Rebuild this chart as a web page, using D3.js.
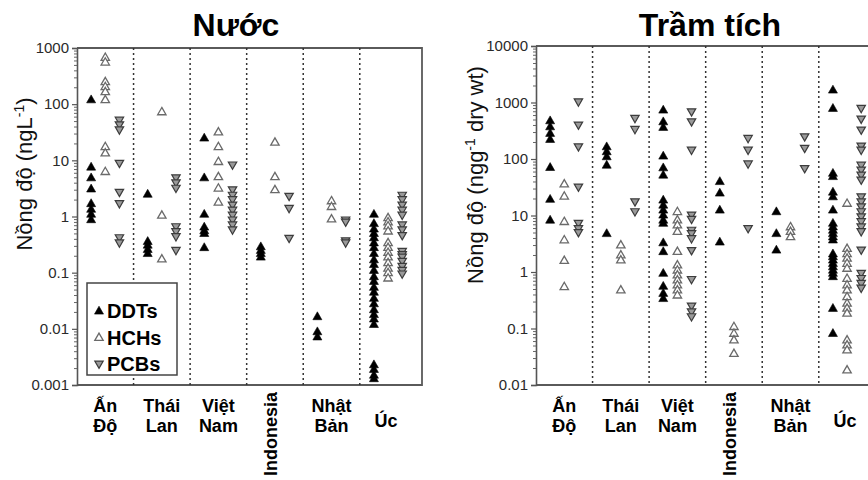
<!DOCTYPE html>
<html>
<head>
<meta charset="utf-8">
<script src="https://cdn.jsdelivr.net/npm/d3@7"></script>
<style>
  html, body { margin: 0; padding: 0; background: #fff; }
  svg { display: block; font-family: "Liberation Sans", Arial, sans-serif; }
</style>
</head>
<body>
<svg id="chart" width="868" height="480"></svg>
<script>
// Countries along the x axis and their (possibly wrapped) label lines
const categories = ["Ấn Độ", "Thái Lan", "Việt Nam", "Indonesia", "Nhật Bản", "Úc"];
const categoryLines = [["Ấn", "Độ"], ["Thái", "Lan"], ["Việt", "Nam"], ["Indonesia"], ["Nhật", "Bản"], ["Úc"]];
const seriesNames = ["DDTs", "HCHs", "PCBs"];

// Water concentrations (ng/L), one list per country
const waterDDTs = [
  [120, 7.6, 4.9, 3.1, 1.7, 1.35, 1.1, 0.88],
  [2.5, 0.36, 0.31, 0.26, 0.22],
  [25, 4.9, 1.1, 0.65, 0.56, 0.5, 0.28],
  [0.29, 0.25, 0.22, 0.19],
  [0.0165, 0.0089, 0.0072],
  [1.1, 0.75, 0.6, 0.5, 0.42, 0.34, 0.28, 0.22, 0.17, 0.14, 0.11, 0.085, 0.07, 0.055, 0.045, 0.035, 0.028, 0.022, 0.018, 0.015, 0.012, 0.0023, 0.0019, 0.0015, 0.0013]
];
const waterHCHs = [
  [680, 560, 250, 205, 166, 120, 17.5, 13.5, 6.3],
  [73, 1.05, 0.175],
  [32, 17.5, 9.5, 5.1, 3.2, 1.8],
  [21, 5.1, 3.0],
  [1.9, 1.5, 0.9],
  [0.95, 0.8, 0.68, 0.55, 0.34, 0.28, 0.23, 0.19, 0.15, 0.12, 0.1, 0.08]
];
const waterPCBs = [
  [52, 43, 35, 8.9, 2.7, 1.7, 0.42, 0.34],
  [4.9, 4.0, 3.2, 0.66, 0.54, 0.44, 0.25],
  [8.3, 3.0, 2.4, 2.0, 1.6, 1.3, 1.06, 0.87, 0.71, 0.58],
  [2.3, 1.4, 0.41],
  [0.87, 0.8, 0.37, 0.34],
  [2.4, 2.0, 1.6, 1.3, 1.06, 0.71, 0.58, 0.46, 0.24, 0.21, 0.19, 0.16, 0.13, 0.11, 0.095]
];

// Sediment concentrations (ng/g dry wt), one list per country
const sedimentDDTs = [
  [476, 373, 285, 223, 71, 19.4, 8.3],
  [165, 135, 110, 78, 4.8],
  [736, 457, 364, 113, 70, 52, 18.8, 15.3, 12.5, 10.2, 8.3, 7.3, 3.3, 2.3, 0.95, 0.56, 0.42, 0.34],
  [40, 25, 12.5, 3.4],
  [11.7, 4.8, 2.45],
  [1665, 789, 56, 49, 26, 21.5, 12.5, 7.3, 6.3, 5.5, 4.8, 4.2, 3.7, 2.1, 1.87, 1.63, 1.42, 1.24, 1.08, 0.95, 0.83, 0.228, 0.082]
];
const sedimentHCHs = [
  [36, 22, 7.8, 3.7, 1.6, 0.55],
  [3.0, 2.0, 1.63, 0.48],
  [11.7, 8.3, 6.8, 5.2, 2.3, 1.33, 1.08, 0.885, 0.72, 0.59, 0.48, 0.39],
  [0.108, 0.082, 0.0625, 0.036],
  [6.3, 5.2, 4.2],
  [16.4, 2.6, 2.1, 1.75, 1.42, 1.16, 0.77, 0.59, 0.48, 0.366, 0.28, 0.228, 0.186, 0.0625, 0.051, 0.0416, 0.0184]
];
const sedimentPCBs = [
  [1030, 400, 165, 32, 7.3, 5.9, 5.0],
  [525, 335, 17.5, 11.7],
  [687, 457, 144, 10.2, 8.6, 5.5, 4.8, 3.9, 2.4, 0.74, 0.25, 0.198, 0.162],
  [232, 144, 82, 5.9],
  [248, 155, 68],
  [789, 510, 326, 170, 144, 78, 64, 52, 42.5, 21.5, 17.5, 14.3, 11.7, 9.5, 7.8, 6.3, 5.2, 2.45, 0.95, 0.77, 0.63, 0.52]
];

// Axis tick values
const waterTicks = [0.001, 0.01, 0.1, 1, 10, 100, 1000];
const sedimentTicks = [0.01, 0.1, 1, 10, 100, 1000, 10000];
const tickLabels = { 0.001: "0.001", 0.01: "0.01", 0.1: "0.1", 1: "1", 10: "10", 100: "100", 1000: "1000", 10000: "10000" };

const svg = d3.select("#chart");

const markerStyle = {
  DDTs: { path: "M0,-4.8L4.5,3.1L-4.5,3.1Z", fill: "#000", stroke: "#000", sw: 0.6 },
  HCHs: { path: "M0,-4.4L4.2,2.9L-4.2,2.9Z", fill: "#fff", stroke: "#6a6a6a", sw: 1.3 },
  PCBs: { path: "M0,4.4L4.2,-2.9L-4.2,-2.9Z", fill: "#9a9a9a", stroke: "#3c3c3c", sw: 1.2 }
};

function minorTicks(domain) {
  const out = [];
  const lo = Math.round(Math.log10(domain[0])), hi = Math.round(Math.log10(domain[1]));
  for (let e = lo; e < hi; e++) for (let m = 2; m <= 9; m++) out.push(m * Math.pow(10, e));
  return out;
}

function drawPanel(opts) {
  const g = svg.append("g");
  const axisX = opts.axisX, top = opts.top, bottom = 385;
  const x = d3.scaleLinear().domain([0, 6.1]).range([axisX, axisX + 345]);
  const y = d3.scaleLog().domain(opts.domain).range([bottom, top]);
  const sub = d3.scalePoint().domain(seriesNames).range([-0.25, 0.25]);
  const center = i => (i + Math.min(i + 1, 6.1)) / 2;

  // frame (top, right, bottom)
  g.append("path")
    .attr("d", `M${axisX},${top}H${x(6.1)}V${bottom}H${axisX}`)
    .attr("fill", "none").attr("stroke", "#5a5a5a").attr("stroke-width", 1.8);

  // dotted separators between countries
  g.selectAll("line.sep").data(d3.range(1, 6)).join("line")
    .attr("class", "sep")
    .attr("x1", d => x(d)).attr("x2", d => x(d))
    .attr("y1", top).attr("y2", bottom)
    .attr("stroke", "#333").attr("stroke-width", 1.5)
    .attr("stroke-dasharray", "2,3");

  // y axis: major and minor log ticks
  const major = d3.axisLeft(y).tickValues(opts.ticks).tickFormat(d => tickLabels[d]).tickSize(5).tickPadding(3);
  const ax = g.append("g").attr("transform", `translate(${axisX},0)`).call(major);
  ax.select(".domain").attr("stroke", "#555").attr("stroke-width", 1.6);
  ax.selectAll(".tick line").attr("stroke", "#555").attr("stroke-width", 1.2);
  ax.selectAll(".tick text").attr("font-size", 15).attr("fill", "#2a2a2a")
    .attr("font-family", "Liberation Sans, Arial, sans-serif");
  const minor = d3.axisLeft(y).tickValues(minorTicks(opts.domain)).tickFormat("").tickSize(3);
  const mx = g.append("g").attr("transform", `translate(${axisX},0)`).call(minor);
  mx.select(".domain").remove();
  mx.selectAll(".tick line").attr("stroke", "#666").attr("stroke-width", 1);

  // axis title
  const yt = g.append("text")
    .attr("transform", `translate(${opts.titleX},${opts.titleY}) rotate(-90)`)
    .attr("text-anchor", "middle").attr("font-size", 22).attr("fill", "#111");
  yt.append("tspan").text(opts.yTitle[0]);
  yt.append("tspan").attr("font-size", 14).attr("dy", -8).text(opts.yTitle[1]);
  yt.append("tspan").attr("dy", 8).text(opts.yTitle[2]);

  // panel title
  g.append("text").attr("x", opts.headX).attr("y", 36)
    .attr("text-anchor", "middle").attr("font-size", 32).attr("font-weight", "bold")
    .text(opts.heading);

  // country labels
  categoryLines.forEach((lines, i) => {
    const cx = x(i + 0.5);
    if (lines[0] === "Indonesia") {
      g.append("text")
        .attr("transform", `translate(${cx + 2},392) rotate(-90)`)
        .attr("text-anchor", "end").attr("font-size", 18).attr("font-weight", "bold")
        .text(lines[0]);
    } else if (lines.length === 1) {
      g.append("text").attr("x", cx - 2).attr("y", 427)
        .attr("text-anchor", "middle").attr("font-size", 18).attr("font-weight", "bold")
        .text(lines[0]);
    } else {
      const t = g.append("text").attr("text-anchor", "middle").attr("font-size", 18).attr("font-weight", "bold");
      lines.forEach((s, k) => t.append("tspan").attr("x", cx).attr("y", 412 + k * 20).text(s));
    }
  });

  // points
  const seriesData = { DDTs: opts.data[0], HCHs: opts.data[1], PCBs: opts.data[2] };
  const pts = [];
  seriesNames.forEach(s => {
    seriesData[s].forEach((vals, i) => {
      vals.forEach(v => pts.push({ s, i, v }));
    });
  });
  g.selectAll("path.pt").data(pts).join("path")
    .attr("class", "pt")
    .attr("transform", d => `translate(${x(center(d.i) + sub(d.s))},${y(d.v)})`)
    .attr("d", d => markerStyle[d.s].path)
    .attr("fill", d => markerStyle[d.s].fill)
    .attr("stroke", d => markerStyle[d.s].stroke)
    .attr("stroke-width", d => markerStyle[d.s].sw);

  return g;
}

const water = drawPanel({
  axisX: 77, top: 48, domain: [0.001, 1000], ticks: waterTicks,
  data: [waterDDTs, waterHCHs, waterPCBs],
  heading: "Nước", headX: 236,
  yTitle: ["Nồng độ (ngL", "-1", ")"], titleX: 32, titleY: 174
});

const sediment = drawPanel({
  axisX: 536, top: 46, domain: [0.01, 10000], ticks: sedimentTicks,
  data: [sedimentDDTs, sedimentHCHs, sedimentPCBs],
  heading: "Trầm tích", headX: 710,
  yTitle: ["Nồng độ (ngg", "-1", " dry wt)"], titleX: 483, titleY: 175
});

// legend box inside the water panel
const legend = svg.append("g");
legend.append("rect").attr("x", 87).attr("y", 283).attr("width", 90).attr("height", 92)
  .attr("fill", "#fff").attr("stroke", "#444").attr("stroke-width", 1.5);
seriesNames.forEach((s, k) => {
  const cy = 311 + k * 26.5;
  legend.append("path").attr("transform", `translate(99,${cy})`)
    .attr("d", markerStyle[s].path)
    .attr("fill", markerStyle[s].fill).attr("stroke", markerStyle[s].stroke)
    .attr("stroke-width", markerStyle[s].sw);
  legend.append("text").attr("x", 107).attr("y", cy + 7)
    .attr("font-size", 20).attr("font-weight", "bold").text(s);
});
</script>
</body>
</html>
